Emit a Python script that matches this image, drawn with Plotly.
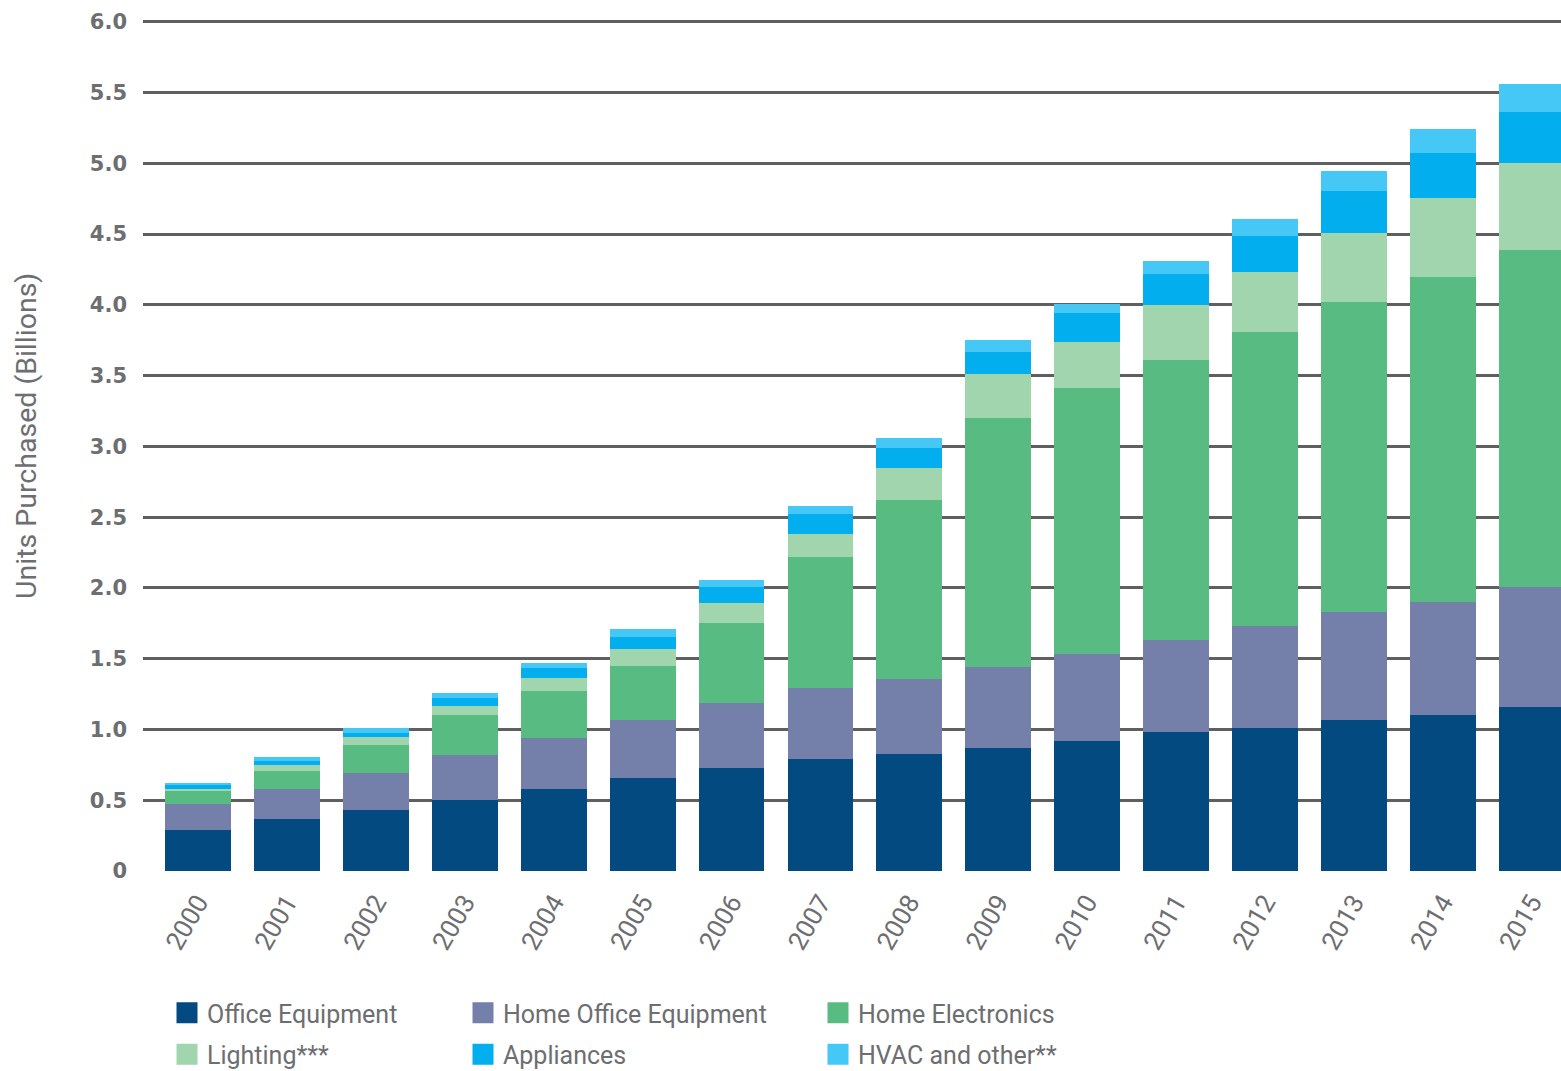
import plotly.graph_objects as go

years = ["2000", "2001", "2002", "2003", "2004", "2005", "2006", "2007",
         "2008", "2009", "2010", "2011", "2012", "2013", "2014", "2015"]
office = [0.29, 0.37, 0.43, 0.50, 0.58, 0.66, 0.73, 0.79, 0.83, 0.87, 0.92, 0.98, 1.01, 1.07, 1.10, 1.16]
home_office = [0.18, 0.21, 0.26, 0.32, 0.36, 0.41, 0.46, 0.50, 0.53, 0.57, 0.61, 0.65, 0.72, 0.76, 0.80, 0.85]
home_elec = [0.10, 0.13, 0.20, 0.28, 0.33, 0.38, 0.56, 0.93, 1.26, 1.76, 1.88, 1.98, 2.08, 2.19, 2.30, 2.38]
lighting = [0.012, 0.04, 0.054, 0.066, 0.095, 0.12, 0.144, 0.16, 0.226, 0.309, 0.331, 0.386, 0.423, 0.488, 0.556, 0.612]
appliances = [0.028, 0.03, 0.031, 0.054, 0.066, 0.085, 0.11, 0.146, 0.146, 0.16, 0.199, 0.224, 0.252, 0.294, 0.318, 0.358]
hvac = [0.012, 0.024, 0.035, 0.04, 0.037, 0.052, 0.052, 0.054, 0.068, 0.08, 0.067, 0.092, 0.119, 0.146, 0.172, 0.201]

series_names = ["Office Equipment", "Home Office Equipment", "Home Electronics",
                "Lighting***", "Appliances", "HVAC and other**"]
series_values = [office, home_office, home_elec, lighting, appliances, hvac]
colors = ["#034a80", "#7480a9", "#58bc82", "#a0d5ae", "#03aeef", "#45c8f5"]
legend_ids = ["legend", "legend2", "legend3", "legend", "legend2", "legend3"]

ytick_vals = [0, 0.5, 1.0, 1.5, 2.0, 2.5, 3.0, 3.5, 4.0, 4.5, 5.0, 5.5, 6.0]
ytick_text = ["0", "0.5", "1.0", "1.5", "2.0", "2.5", "3.0", "3.5", "4.0", "4.5", "5.0", "5.5", "6.0"]

GRAY = "#6d6e71"
TXT = "Roboto, Liberation Sans, sans-serif"

fig = go.Figure()
for name, vals, col in zip(series_names, series_values, colors):
    fig.add_trace(go.Bar(x=years, y=vals, name=name, marker=dict(color=col, line=dict(width=0)),
                         showlegend=False))
# legend entries (larger swatches)
for name, col, lg in zip(series_names, colors, legend_ids):
    fig.add_trace(go.Scatter(x=[None], y=[None], mode="markers", name=name, legend=lg,
                             legendgroup=name,
                             marker=dict(symbol="square", size=16, color=col,
                                         line=dict(width=5, color=col)),
                             showlegend=True))

W, H = 1561, 1071
L, R, T, B = 143, 0, 19, 200
pw, ph = W - L - R, H - T - B

def px_x(px):
    return (px - L) / pw

def px_y(py):
    return (H - B - py) / ph

legend_common = dict(orientation="v", xanchor="left", yanchor="top",
                     font=dict(family=TXT, size=25, color=GRAY), tracegroupgap=6,
                     bgcolor="rgba(0,0,0,0)", traceorder="grouped", itemsizing="trace")
fig.update_layout(
    width=W, height=H,
    margin=dict(l=L, r=R, t=T, b=B, autoexpand=False),
    plot_bgcolor="white", paper_bgcolor="white",
    barmode="stack", bargap=0.26,
    showlegend=True,
    legend=dict(x=px_x(167), y=px_y(990), **legend_common),
    legend2=dict(x=px_x(463), y=px_y(990), **legend_common),
    legend3=dict(x=px_x(818), y=px_y(990), **legend_common),
    xaxis=dict(type="category", range=[-0.62, 15.33], showgrid=False, showline=False,
               zeroline=False, ticks="", tickangle=-60, ticklabelstandoff=10,
               tickfont=dict(family=TXT, size=26, color=GRAY)),
    yaxis=dict(range=[0, 6.02], tickvals=ytick_vals, ticktext=ytick_text,
               showgrid=True, gridcolor="#5f5f5f", gridwidth=2.5, zeroline=False,
               showline=False, ticks="", ticklabelstandoff=15,
               tickfont=dict(family="DejaVu Sans", size=21, color=GRAY, weight="bold")),
    annotations=[dict(text="Units Purchased (Billions)", xref="paper", yref="paper",
                      x=px_x(26), y=px_y(436), xanchor="center", yanchor="middle",
                      textangle=-90, showarrow=False,
                      font=dict(family=TXT, size=28.5, color=GRAY))],
)

fig.write_html("out.html", config={"displayModeBar": False},
               post_script="document.body.style.margin='0';")
